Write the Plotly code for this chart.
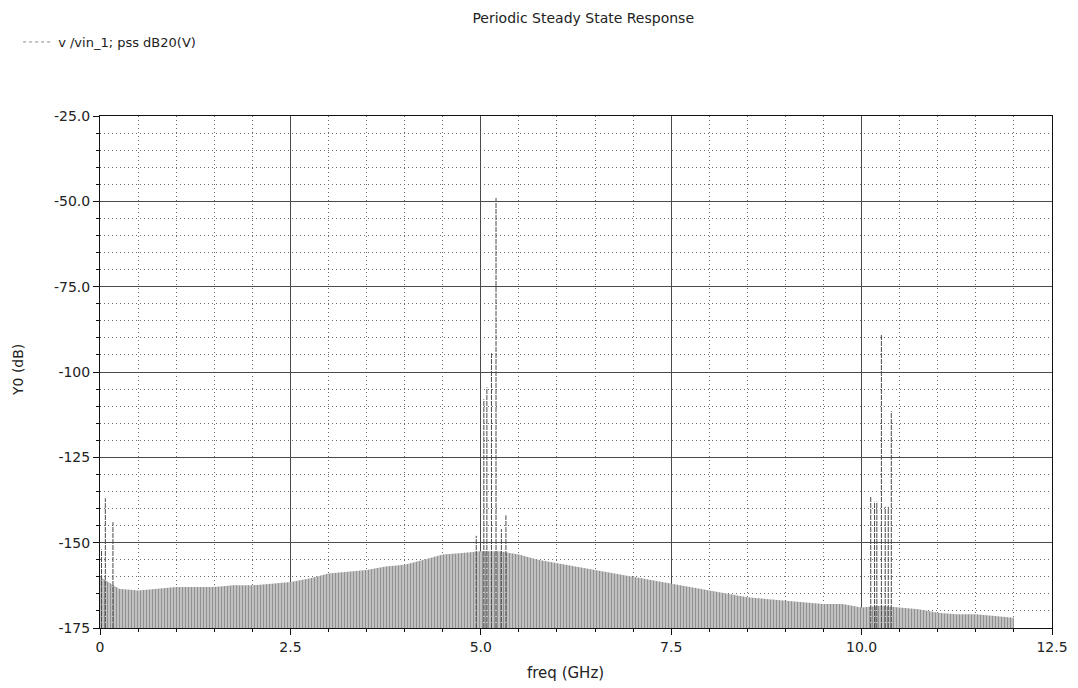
import plotly.graph_objects as go

# ---- data ----
env_freq = [0.0, 0.25, 0.5, 0.75, 1.0, 1.25, 1.5, 1.75, 2.0, 2.25, 2.5, 2.75, 3.0, 3.25,
            3.5, 3.75, 4.0, 4.25, 4.5, 4.75, 5.0, 5.25, 5.5, 5.75, 6.0, 6.25, 6.5, 6.75,
            7.0, 7.25, 7.5, 7.75, 8.0, 8.25, 8.5, 8.75, 9.0, 9.25, 9.5, 9.75, 10.0, 10.25,
            10.5, 10.75, 11.0, 11.25, 11.5, 11.75, 12.0]
env_db = [-160, -163.5, -164, -163.5, -163, -163, -163, -162.5, -162.5, -162, -161.5,
          -160.5, -159, -158.5, -158, -157, -156.5, -155, -153.5, -153, -152.5, -152.5,
          -153.5, -155, -156, -157, -158, -159, -160, -161, -162, -163, -164, -165, -166,
          -166.5, -167, -167.5, -168, -168, -169, -168.5, -169, -169.5, -170.5, -171, -171,
          -171.5, -172]

spur_freq = [0.02, 0.07, 0.17, 4.94, 5.04, 5.08, 5.14, 5.20, 5.27, 5.33,
             10.12, 10.17, 10.20, 10.26, 10.31, 10.35, 10.39]
spur_db = [-152, -137, -144, -148, -108, -104.5, -94.5, -49, -146, -142,
           -136.5, -138, -138, -89, -139.5, -139.5, -111.5]

floor_db = -175
x_ticks = [0, 2.5, 5.0, 7.5, 10.0, 12.5]
x_ticktext = ["0", "2.5", "5.0", "7.5", "10.0", "12.5"]
y_ticks = [-25, -50, -75, -100, -125, -150, -175]
y_ticktext = ["-25.0", "-50.0", "-75.0", "-100", "-125", "-150", "-175"]

FONT = "DejaVu Sans"
TXT = "#222222"

fig = go.Figure()

# baseline for fill
fig.add_trace(go.Scatter(x=env_freq, y=[floor_db] * len(env_freq), mode="lines",
                         line=dict(width=0, color="rgba(0,0,0,0)"), showlegend=False,
                         hoverinfo="skip"))
# dense noise floor (drawn as patterned fill)
fig.add_trace(go.Scatter(x=env_freq, y=env_db, mode="lines", fill="tonexty",
                         line=dict(width=0, color="rgba(0,0,0,0)"),
                         fillcolor="#c0c0c0",
                         fillpattern=dict(shape="|", fgcolor="#5c5c5c", bgcolor="#c6c6c6",
                                          size=3, solidity=0.4),
                         showlegend=False))

# spurs as vertical stems
sx, sy = [], []
for f, v in zip(spur_freq, spur_db):
    sx += [f, f, None]
    sy += [floor_db, v, None]
fig.add_trace(go.Scatter(x=sx, y=sy, mode="lines",
                         line=dict(width=1, color="#4a4a4a", dash="5px,1px"),
                         showlegend=False))

# legend entry
fig.add_trace(go.Scatter(x=[None], y=[None], mode="lines",
                         line=dict(width=1, color="#888888", dash="dot"),
                         name="v /vin_1; pss dB20(V)", showlegend=True))

axis_common = dict(
    showline=True, linecolor="#111111", linewidth=1, mirror=True,
    showgrid=True, gridcolor="#4a4a4a", gridwidth=1,
    ticks="outside", ticklen=6, tickcolor="#111111",
    tickfont=dict(family=FONT, size=14, color=TXT),
    zeroline=False,
)

minor_common = dict(showgrid=True, griddash="1px,3px", gridcolor="#6a6a6a",
                    gridwidth=1, ticks="outside", ticklen=3, tickcolor="#111111")

fig.update_xaxes(range=[0, 12.5], tickvals=x_ticks, ticktext=x_ticktext,
                 minor=dict(dtick=0.5, **minor_common), **axis_common)
fig.update_yaxes(range=[-175, -25], tickvals=y_ticks, ticktext=y_ticktext,
                 minor=dict(dtick=5, **minor_common), **axis_common)

fig.update_layout(
    width=1078, height=688,
    margin=dict(l=100, r=26, t=116, b=60, autoexpand=False),
    paper_bgcolor="white", plot_bgcolor="white",
    font=dict(family=FONT, size=14, color=TXT),
    title=dict(text="Periodic Steady State Response", x=0.541, xanchor="center",
               y=0.974, yanchor="middle", yref="container",
               font=dict(family=FONT, size=14, color=TXT)),
    showlegend=True,
    legend=dict(x=-0.086, xanchor="left", y=1 + (116 - 42) / 512, yanchor="middle",
                font=dict(family=FONT, size=13, color=TXT), bgcolor="rgba(0,0,0,0)",
                itemwidth=30),
    annotations=[
        dict(text="freq (GHz)", x=(565 - 100) / 952, y=(628 - 673) / 512, xref="paper",
             yref="paper", showarrow=False, font=dict(family=FONT, size=15, color=TXT),
             xanchor="center", yanchor="middle"),
        dict(text="Y0 (dB)", x=(18 - 100) / 952, y=(628 - 370) / 512, xref="paper",
             yref="paper", showarrow=False, textangle=-90,
             font=dict(family=FONT, size=14, color=TXT), xanchor="center", yanchor="middle"),
    ],
)

fig.write_html("out.html")
